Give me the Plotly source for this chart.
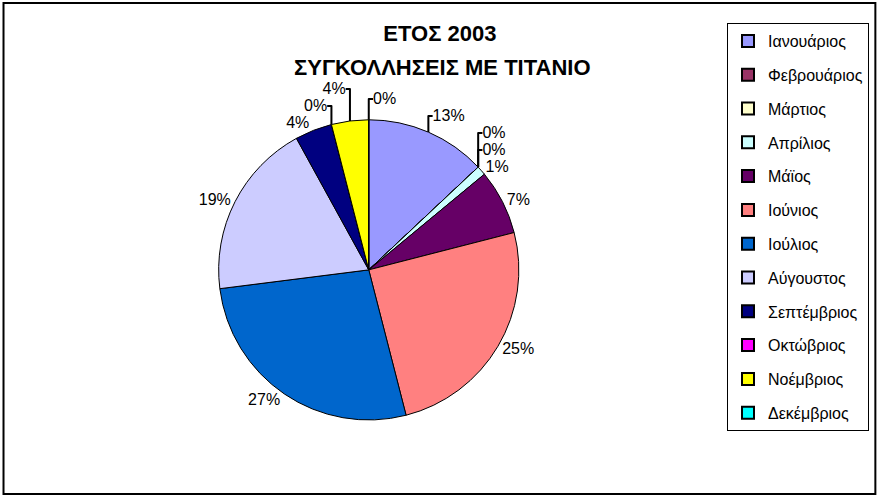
import plotly.graph_objects as go

months = ["Ιανουάριος", "Φεβρουάριος", "Μάρτιος", "Απρίλιος", "Μάϊος", "Ιούνιος",
          "Ιούλιος", "Αύγουστος", "Σεπτέμβριος", "Οκτώβριος", "Νοέμβριος", "Δεκέμβριος"]
percent_values = [13, 0, 0, 1, 7, 25, 27, 19, 4, 0, 4, 0]
colors = ["#9999FF", "#993366", "#FFFFCC", "#CCFFFF", "#660066", "#FF8080",
          "#0066CC", "#CCCCFF", "#000080", "#FF00FF", "#FFFF00", "#00FFFF"]
title_line1 = "ΕΤΟΣ 2003"
title_line2 = "ΣΥΓΚΟΛΛΗΣΕΙΣ ΜΕ ΤΙΤΑΝΙΟ"

FONT = "Arial, 'Liberation Sans', sans-serif"

fig = go.Figure()
fig.add_trace(go.Pie(
    labels=months,
    values=percent_values,
    sort=False,
    direction="clockwise",
    rotation=0,
    marker=dict(colors=colors, line=dict(color="black", width=1)),
    texttemplate="%{percent:.0%}",
    textposition="outside",
    textfont=dict(family=FONT, size=16, color="black"),
    showlegend=False,
    hoverinfo="label+percent",
    domain=dict(x=[0.14, 0.70], y=[0.155, 0.759]),
))

# legend entries
for m, c in zip(months, colors):
    fig.add_trace(go.Scatter(
        x=[None], y=[None], mode="markers", name=m, legendgroup=m,
        marker=dict(symbol="square", size=10, color=c, line=dict(color="black", width=1)),
    ))

fig.update_layout(
    width=878, height=497,
    margin=dict(l=0, r=0, t=0, b=0),
    paper_bgcolor="white", plot_bgcolor="white",
    xaxis=dict(visible=False), yaxis=dict(visible=False),
    font=dict(family=FONT, size=16, color="black"),
    title=dict(text="<b>" + title_line1 + "</b>", x=0.501, xanchor="center",
               y=1 - 33 / 497, yanchor="middle",
               font=dict(family=FONT, size=22, color="black")),
    annotations=[dict(text="<b>" + title_line2 + "</b>", x=0.504, xref="paper",
                      y=1 - 67 / 497, yref="paper", xanchor="center", yanchor="middle",
                      showarrow=False, font=dict(family=FONT, size=22, color="black"))],
    legend=dict(x=727 / 878, xanchor="left", y=1 - 23 / 497, yanchor="top",
                bordercolor="black", borderwidth=1, bgcolor="white",
                font=dict(family=FONT, size=16, color="black"),
                tracegroupgap=10, traceorder="grouped", itemsizing="constant"),
    shapes=[dict(type="rect", xref="paper", yref="paper", x0=0.004, x1=0.997,
                 y0=0.006, y1=0.994, line=dict(color="black", width=2))],
)

fig.write_html("out.html", config={"displayModeBar": False},
               post_script="document.body.style.margin='0';")
